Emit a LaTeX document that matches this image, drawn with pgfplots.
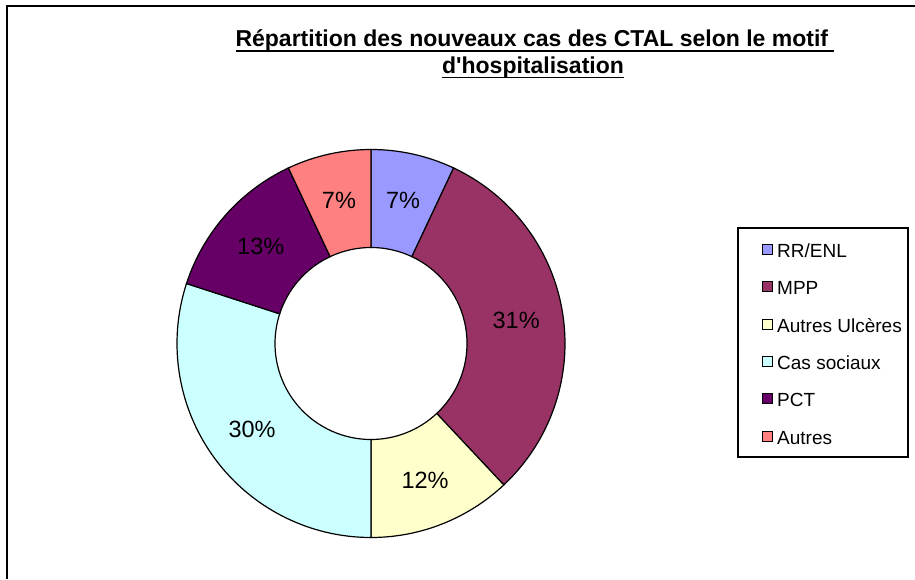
\documentclass[border=0pt]{standalone}
\usepackage{fontspec}
\setmainfont{Liberation Sans}
\usepackage{pgfplots}
\usepackage{pgfplotstable}
\pgfplotsset{compat=1.18}
\definecolor{c0}{HTML}{9999FF}
\definecolor{c1}{HTML}{993366}
\definecolor{c2}{HTML}{FFFFCC}
\definecolor{c3}{HTML}{CCFFFF}
\definecolor{c4}{HTML}{660066}
\definecolor{c5}{HTML}{FF8080}
\newcommand\pctfont{\fontsize{23.5}{28}\selectfont}
\newcommand\legfont{\fontsize{19}{24}\selectfont}
\newcommand\titfont{\fontsize{23}{28}\selectfont\bfseries}
\newcommand\myul[1]{\setbox0\hbox{#1}\rlap{\rule[-5pt]{\wd0}{1.6pt}}\box0}
\pgfplotstableread[col sep=comma]{
label,value
RR/ENL,7
MPP,31
Autres Ulcères,12
Cas sociaux,30
PCT,13
Autres,7
}\piedata
\begin{document}
\begin{tikzpicture}[x=1pt,y=1pt]
\begin{axis}[
  hide axis, x=1pt, y=1pt, scale only axis,
  xmin=0, xmax=915, ymin=0, ymax=579,
  at={(0,0)}, anchor=south west, clip=false,
  legend style={draw=none, fill=none, at={(axis cs:760,336.5)}, anchor=north west,
    inner sep=0pt, row sep=18.4pt, font=\legfont,
    nodes={inner sep=0pt, text height=14.5pt, text depth=4.5pt}},
  legend cell align=left,
  legend image code/.code={\path[draw=none, fill=none] (0pt,0pt) -- (17pt,0pt);
    \draw[#1, line width=0.8pt] (2pt,-2pt) rectangle (12pt,8pt);},
]
\def\cx{371}\def\cy{235.5}\def\Ro{194}\def\Ri{96}\def\Rl{147}
\pgfplotstablegetrowsof{\piedata}
\pgfmathtruncatemacro{\lastrow}{\pgfplotsretval-1}
\gdef\acc{90}
\foreach \i in {0,...,\lastrow}{
  \pgfplotstablegetelem{\i}{value}\of{\piedata}
  \let\v\pgfplotsretval
  \pgfmathsetmacro{\e}{\acc-3.6*\v}
  \pgfmathsetmacro{\m}{(\acc+\e)/2}
  \pgfmathsetmacro{\xa}{\cx+\Ro*cos(\acc)}
  \pgfmathsetmacro{\ya}{\cy+\Ro*sin(\acc)}
  \pgfmathsetmacro{\xb}{\cx+\Ri*cos(\e)}
  \pgfmathsetmacro{\yb}{\cy+\Ri*sin(\e)}
  \pgfmathsetmacro{\xm}{\cx+\Rl*cos(\m)}
  \pgfmathsetmacro{\ym}{\cy+\Rl*sin(\m)}
  \edef\temp{\noexpand\filldraw[fill=c\i, draw=black, line width=1.2pt]
    (axis cs:\xa,\ya) arc[start angle=\acc, end angle=\e, radius=\Ro pt]
    -- (axis cs:\xb,\yb) arc[start angle=\e, end angle=\acc, radius=\Ri pt] -- cycle;
    \noexpand\node[font=\noexpand\pctfont, text=black] at (axis cs:\xm,\ym) {\v\noexpand\%};}
  \temp
  \xdef\acc{\e}
}
\foreach \i in {0,...,\lastrow}{
  \pgfplotstablegetelem{\i}{label}\of{\piedata}
  \edef\temp{\noexpand\addlegendimage{fill=c\i, draw=black}
    \noexpand\addlegendentry{\pgfplotsretval}}
  \temp
}
% legend frame
\draw[black, line width=1.2pt] (axis cs:738,122) rectangle (axis cs:908,351);
% chart area frame (left and top edges)
\draw[black, line width=2pt] (axis cs:6.5,0) -- (axis cs:6.5,572.5) -- (axis cs:915,572.5);
% title
\node[anchor=base, font=\titfont, inner sep=0pt] at (axis cs:535,532)
  {\myul{Répartition des nouveaux cas des CTAL selon le motif\ }};
\node[anchor=base, font=\titfont, inner sep=0pt] at (axis cs:533,505.5)
  {\myul{d\textquotesingle hospitalisation}};
\end{axis}
\pgfresetboundingbox
\path (0,0) rectangle (915,579);
\end{tikzpicture}
\end{document}
